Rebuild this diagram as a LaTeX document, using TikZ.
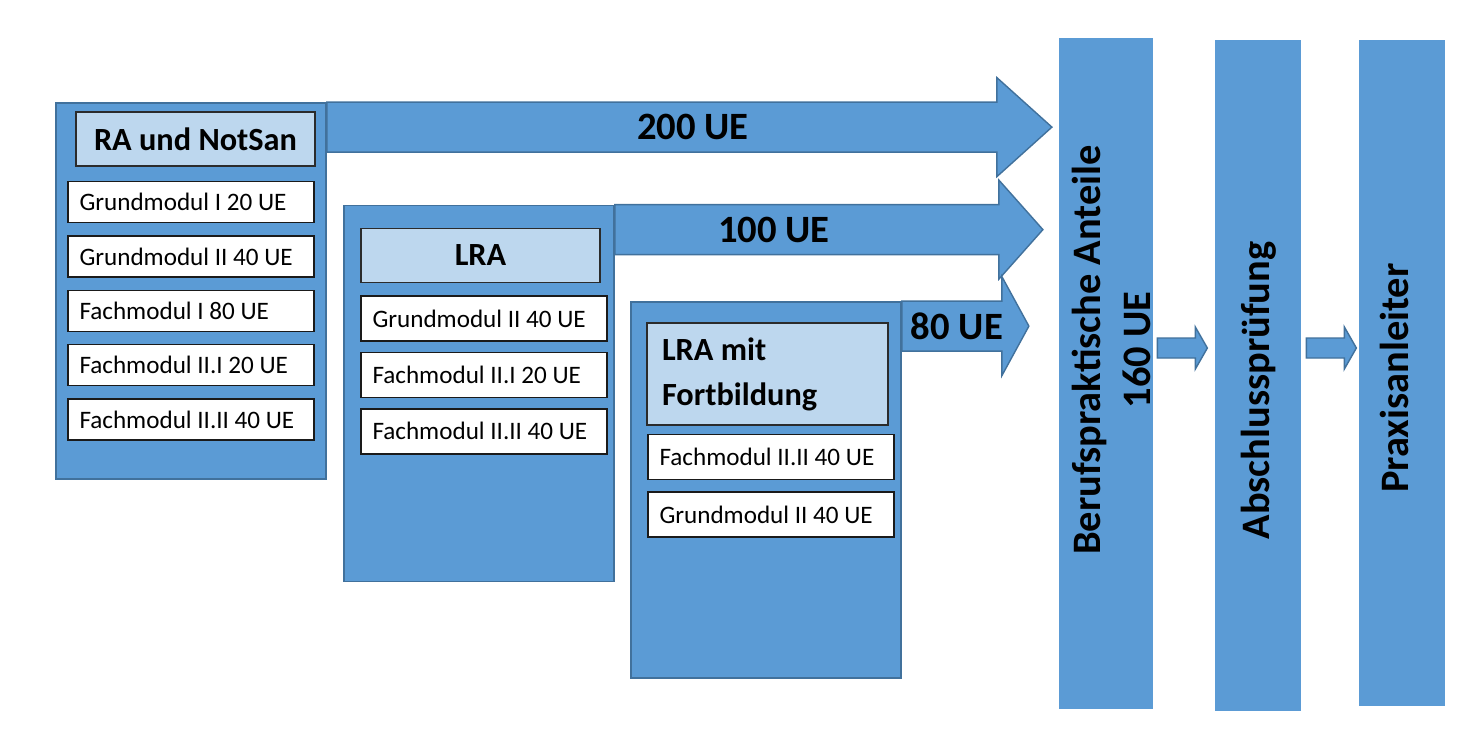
\documentclass[tikz,border=0pt]{standalone}
\usepackage{fontspec}
\setmainfont{Carlito}
\usepackage{tikz}
\usetikzlibrary{positioning,calc}
\definecolor{boxblue}{HTML}{5B9BD5}
\definecolor{boxedge}{HTML}{41719C}
\definecolor{headblue}{HTML}{BDD7EE}
\definecolor{headedge}{HTML}{2B2B2B}
\definecolor{modedge}{HTML}{1A1A1A}
\newcommand{\headfont}{\fontsize{18.4}{25.5}\selectfont\bfseries}
\newcommand{\modfont}{\fontsize{14.3}{17}\selectfont}
\newcommand{\bigfont}{\fontsize{22}{28}\selectfont\bfseries}
\newcommand{\colfont}{\fontsize{23}{28.5}\selectfont\bfseries}
\tikzset{
  track/.style={
    rectangle, draw=boxedge, line width=1pt, fill=boxblue,
    minimum width=5.4cm, minimum height=7.52cm
  },
  trackhead/.style={
    rectangle, draw=headedge, line width=0.9pt, fill=headblue,
    minimum width=4.78cm, minimum height=1.08cm, font=\headfont
  },
  modul/.style={
    rectangle, draw=modedge, line width=0.8pt, fill=white,
    text width=4.46cm, inner xsep=0.23cm, minimum height=0.9cm,
    align=flush left, font=\modfont
  },
  flatmodul/.style={modul, minimum height=0.82cm},
  column/.style={rectangle, fill=boxblue, minimum height=13.42cm},
  coltext/.style={font=\colfont, align=center, rotate=90},
  flow/.style={draw=boxedge, line width=0.8pt, fill=boxblue, line join=miter},
  flowlabel/.style={font=\bigfont}
}
\newcommand{\flowarrow}[5]{
  \draw[flow] (#1.north east) -- ++(#2,0) -- ++(0,0.49) -- ++(#3,-0.99)
    -- ++(-#3,-0.99) -- ++(0,0.49) -- ++(-#2,0) -- cycle;
  \node[flowlabel] (#1ue) at ($(#1.north east)+(#4,-0.5)$) {#5};
}
\newcommand{\steparrow}[2]{
  \draw[flow] ($(#1.east)+(#2)$) -- ++(0.76,0) -- ++(0,0.22) -- ++(0.24,-0.42)
    -- ++(-0.24,-0.42) -- ++(0,0.22) -- ++(-0.76,0) -- cycle;
}

\begin{document}
\begin{tikzpicture}[node distance=0.2cm]
\fill[white] (0,0) rectangle (29.42,-14.66);
\useasboundingbox (0,0) rectangle (29.42,-14.66);
\node[track] (ra) at (3.82,-5.82) {};
\node[trackhead] (rahead) at (3.91,-2.78) {RA und NotSan};
\node[flatmodul, below=0.28cm of rahead, xshift=-0.09cm] (ra1) {Grundmodul I 20 UE};
\node[flatmodul, below=0.24cm of ra1] (ra2) {Grundmodul II 40 UE};
\node[flatmodul, below=0.24cm of ra2] (ra3) {Fachmodul I 80 UE};
\node[flatmodul, below=0.24cm of ra3] (ra4) {Fachmodul II.I 20 UE};
\node[flatmodul, below=0.24cm of ra4] (ra5) {Fachmodul II.II 40 UE};
\node[track] (lra) at (9.58,-7.87) {};
\node[trackhead] (lrahead) at (9.61,-5.11) {LRA};
\node[modul, below=0.24cm of lrahead, xshift=0.07cm] (lra1) {Grundmodul II 40 UE};
\node[modul, below=of lra1] (lra2) {Fachmodul II.I 20 UE};
\node[modul, below=of lra2] (lra3) {Fachmodul II.II 40 UE};
\node[track] (lraf) at (15.32,-9.8) {};
\node[trackhead, minimum width=4.82cm, minimum height=2.04cm, text width=4.22cm,
  inner xsep=0.3cm, align=flush left] (lrafhead) at (15.35,-7.48) {LRA mit\\Fortbildung};
\node[modul, below=0.16cm of lrafhead, xshift=0.07cm] (lraf1) {Fachmodul II.II 40 UE};
\node[modul, below=0.22cm of lraf1] (lraf2) {Grundmodul II 40 UE};
\flowarrow{ra}{13.4}{1.1}{7.32}{200 UE}
\flowarrow{lra}{7.68}{0.88}{3.18}{100 UE}
\flowarrow{lraf}{2.0}{0.54}{1.1}{80 UE}
\node[column, minimum width=1.88cm] (bpa) at (22.12,-7.47) {};
\node[column, minimum width=1.72cm] (absp) at (25.16,-7.51) {};
\node[column, minimum width=1.72cm, minimum height=13.32cm] (praxis) at (28.04,-7.46) {};
\node[coltext] (bpatext) at ($(bpa.center)+(0.1,0.47)$) {Berufspraktische Anteile\\160 UE};
\node[coltext] (abspText) at ($(absp.center)+(0.02,-0.3)$) {Abschlussprüfung};
\node[coltext] (praxistext) at ($(praxis.center)+(-0.16,-0.1)$) {Praxisanleiter};
\steparrow{bpa}{0.08,0.71}
\steparrow{absp}{0.1,0.75}
\end{tikzpicture}
\end{document}
